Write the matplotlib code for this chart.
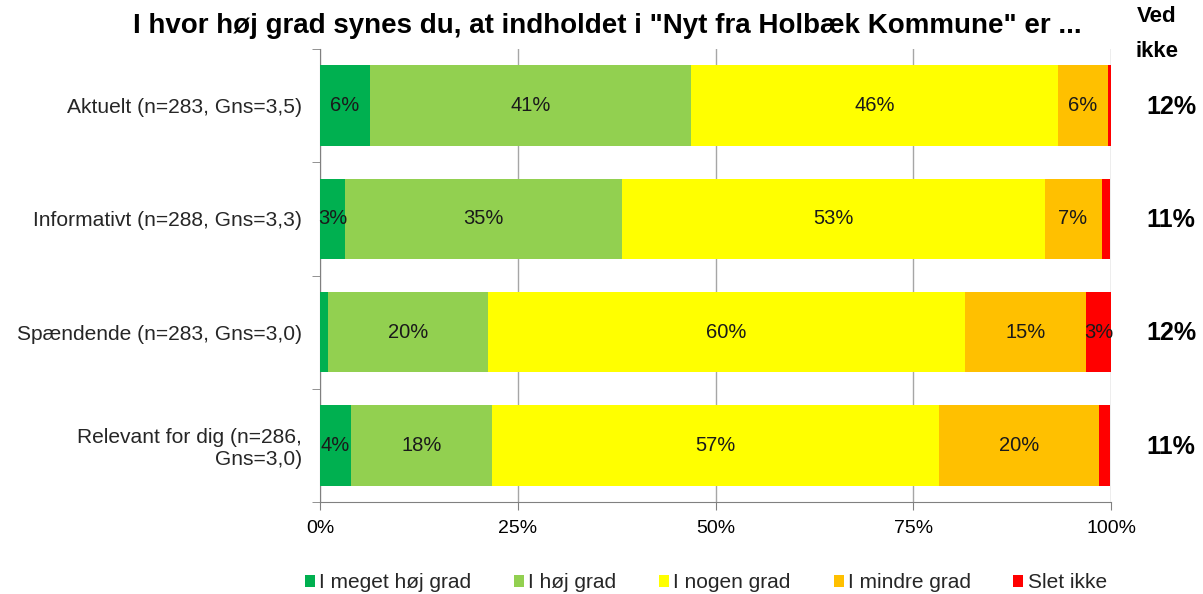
import matplotlib
matplotlib.use("Agg")
import matplotlib.pyplot as plt
import numpy as np

categories = ["Aktuelt (n=283, Gns=3,5)", "Informativt (n=288, Gns=3,3)",
              "Spændende (n=283, Gns=3,0)", "Relevant for dig (n=286,\nGns=3,0)"]
series = ["I meget høj grad", "I høj grad", "I nogen grad", "I mindre grad", "Slet ikke"]
meget_hoej = [6.3, 3.2, 1.0, 3.9]
hoej = [40.6, 35.0, 20.2, 17.8]
nogen = [46.4, 53.4, 60.4, 56.6]
mindre = [6.3, 7.2, 15.2, 20.2]
slet_ikke = [0.4, 1.1, 3.2, 1.4]
ved_ikke = ["12%", "11%", "12%", "11%"]
colors = ["#00b050", "#92d050", "#ffff00", "#ffc000", "#ff0000"]

plt.rcParams['font.family'] = ['Liberation Sans', 'DejaVu Sans']

fig = plt.figure(figsize=(12.03, 5.94), dpi=100)
ax = fig.add_axes([320/1203, 1-502/594, 791/1203, 453/594])

data = [meget_hoej, hoej, nogen, mindre, slet_ikke]
y = np.arange(len(categories))
left = np.zeros(len(categories))
for vals, col, name in zip(data, colors, series):
    vals = np.array(vals)
    ax.barh(y, vals, left=left, height=0.712, color=col, label=name, zorder=3)
    for yi, (l, v) in enumerate(zip(left, vals)):
        if v >= 2.5:
            ax.text(l + v/2, yi, "%d%%" % round(v), ha='center', va='center',
                    fontsize=14.5, color='#1a1a1a', zorder=4)
    left = left + vals

ax.set_xlim(0, 100)
ax.set_ylim(len(categories)-0.5, -0.5)
ax.set_xticks([0, 25, 50, 75, 100])
ax.set_xticklabels(["0%", "25%", "50%", "75%", "100%"], fontsize=14)
ax.grid(axis='x', color='#a6a6a6', linewidth=1, zorder=0)
ax.set_yticks(y)
ax.set_yticklabels(categories, fontsize=15.1, color='#262626')
ax.tick_params(axis='y', length=0, pad=13)
# tick marks between categories on the left spine
ax.set_yticks(np.arange(-0.5, len(categories)), minor=True)
ax.tick_params(axis='y', which='minor', length=6, color='#808080')
ax.tick_params(axis='x', length=6, color='#808080', pad=7)
for s in ['top', 'right']:
    ax.spines[s].set_visible(False)
for s in ['left', 'bottom']:
    ax.spines[s].set_color('#808080')

for yi, v in enumerate(ved_ikke):
    fig.text(1171/1203, 1-(107+113.2*yi)/594, v, ha='center', va='center',
             fontsize=18, fontweight='bold')

fig.text(1157/1203, 1-22/594, "Ved", ha='center', va='baseline', fontsize=16, fontweight='bold')
fig.text(1157/1203, 1-57/594, "ikke", ha='center', va='baseline', fontsize=16, fontweight='bold')
fig.text(607/1203, 1-33/594, 'I hvor høj grad synes du, at indholdet i "Nyt fra Holbæk Kommune" er ...',
         ha='center', va='baseline', fontsize=20, fontweight='bold')

fig.legend(loc='center', bbox_to_anchor=(706/1203, 1-583/594), ncol=5, frameon=False,
           fontsize=15, handlelength=0.48, handleheight=0.48, handletextpad=0.2,
           columnspacing=2.05, labelcolor='#262626')

fig.savefig("out.png", dpi=100)
